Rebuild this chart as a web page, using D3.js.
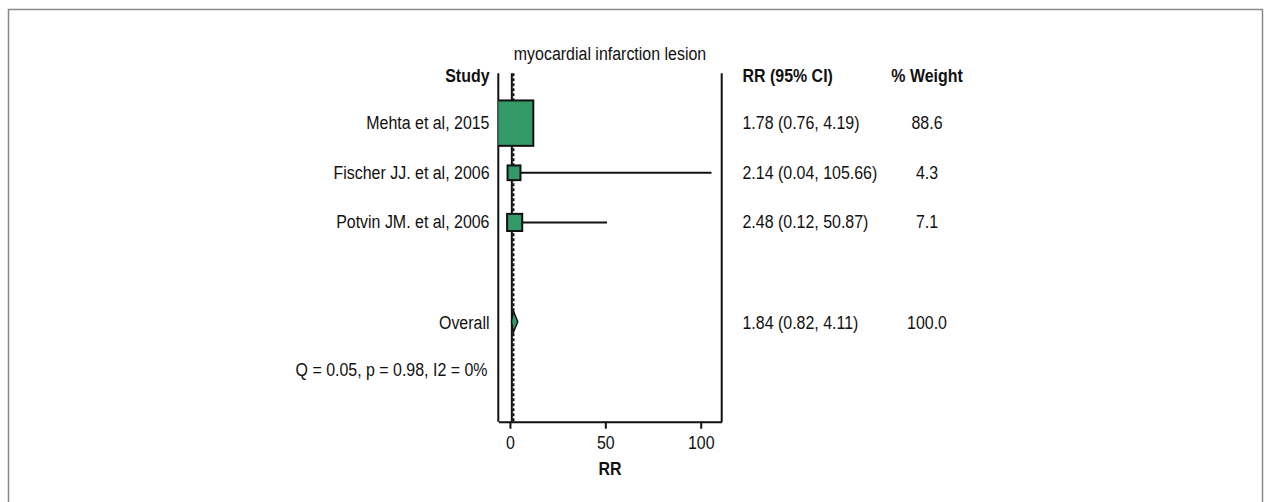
<!DOCTYPE html>
<html><head><meta charset="utf-8">
<script src="https://cdn.jsdelivr.net/npm/d3@7"></script>
<style>
body{margin:0;background:#fff}
text{font-family:"Liberation Sans",Arial,Helvetica,sans-serif;fill:#111}
</style>
</head><body>
<svg id="c" width="1266" height="502"></svg>
<script>
// ---------- data ----------
const title = "myocardial infarction lesion";
const headers = ["Study", "RR (95% CI)", "% Weight"];
const studies = ["Mehta et al, 2015", "Fischer JJ. et al, 2006", "Potvin JM. et al, 2006"];
const rr = [1.78, 2.14, 2.48];
const lower = [0.76, 0.04, 0.12];
const upper = [4.19, 105.66, 50.87];
const weights = [88.6, 4.3, 7.1];
const overallLabel = "Overall";
const overallValues = [1.84, 0.82, 4.11];   // RR, lower, upper
const overallWeight = 100.0;
const heterogeneity = "Q = 0.05, p = 0.98, I2 = 0%";
const nullValue = 1;
const xTicks = [0, 50, 100];
const xLabel = "RR";

// ---------- layout ----------
const FS = 19, SX = 0.84;
const svg = d3.select("#c");
const plotL = 498.3, plotR = 721.7, plotT = 73.3, plotB = 421.7;
const x = d3.scaleLinear().domain([-6.1, 111]).range([plotL, plotR]);
const y = d3.scaleLinear().domain([0, 7]).range([73.5, 421]);
const size = d3.scalePow().exponent(0.5).domain([d3.min(weights), d3.max(weights)]).range([14.7, 45.4]);
const labelX = 489.5, ciX = 742.5, wX = 927;
const green = "#339966";

// outer frame
svg.append("rect").attr("x", 8.5).attr("y", 9.5).attr("width", 1254).attr("height", 520)
  .attr("fill", "none").attr("stroke", "#8a8a8a").attr("stroke-width", 1.5);

function txt(xp, yp, s, anchor, bold) {
  return svg.append("text")
    .attr("transform", `translate(${xp},${yp}) scale(${SX},1)`)
    .attr("text-anchor", anchor)
    .attr("font-size", FS)
    .attr("font-weight", bold ? "bold" : null)
    .text(s);
}
const fmt2 = d3.format(".2f"), fmt1 = d3.format(".1f");
const ciText = (a, b, c) => `${fmt2(a)} (${fmt2(b)}, ${fmt2(c)})`;

// title & headers
txt((plotL + plotR) / 2, 59.5, title, "middle", false);
txt(labelX, 81.5, headers[0], "end", true);
txt(ciX, 81.5, headers[1], "start", true);
txt(wX, 81.5, headers[2], "middle", true);

// plot frame: left, right
svg.append("line").attr("x1", plotL).attr("x2", plotL).attr("y1", plotT).attr("y2", plotB)
  .attr("stroke", "#111").attr("stroke-width", 2);
svg.append("line").attr("x1", plotR).attr("x2", plotR).attr("y1", plotT).attr("y2", plotB)
  .attr("stroke", "#111").attr("stroke-width", 2);

// reference lines
svg.append("line").attr("x1", x(nullValue)).attr("x2", x(nullValue)).attr("y1", plotT).attr("y2", plotB)
  .attr("stroke", "#111").attr("stroke-width", 2);
svg.append("line").attr("x1", x(overallValues[0])).attr("x2", x(overallValues[0])).attr("y1", plotT).attr("y2", plotB)
  .attr("stroke", "#111").attr("stroke-width", 2).attr("stroke-dasharray", "3,2");

// clip
svg.append("clipPath").attr("id", "pc").append("rect")
  .attr("x", plotL).attr("y", 0).attr("width", plotR - plotL).attr("height", 502);
const pg = svg.append("g").attr("clip-path", "url(#pc)");

const rows = studies.map((s, i) => ({ s, rr: rr[i], lo: lower[i], hi: upper[i], w: weights[i], r: i + 1 }));

// CI lines
pg.selectAll("line.ci").data(rows).enter().append("line")
  .attr("x1", d => x(d.lo)).attr("x2", d => x(d.hi))
  .attr("y1", d => y(d.r)).attr("y2", d => y(d.r))
  .attr("stroke", "#111").attr("stroke-width", 2);

// boxes
pg.selectAll("rect.box").data(rows).enter().append("rect")
  .attr("x", d => x(d.rr) - size(d.w) * 0.88 / 2)
  .attr("y", d => y(d.r) - size(d.w) / 2)
  .attr("width", d => size(d.w) * 0.88)
  .attr("height", d => size(d.w))
  .attr("fill", green).attr("stroke", "#111").attr("stroke-width", 2);

// overall diamond
const oy = y(5), dh = 10.5;
pg.append("path")
  .attr("d", `M${x(overallValues[1])},${oy} L${x(overallValues[0])},${oy - dh} L${x(overallValues[2])},${oy} L${x(overallValues[0])},${oy + dh} Z`)
  .attr("fill", green).attr("stroke", "#111").attr("stroke-width", 1.5);

// row texts
rows.forEach(d => {
  txt(labelX, y(d.r) + 6, d.s, "end", false);
  txt(ciX, y(d.r) + 6, ciText(d.rr, d.lo, d.hi), "start", false);
  txt(wX, y(d.r) + 6, fmt1(d.w), "middle", false);
});
txt(labelX, y(5) + 7, overallLabel, "end", false);
txt(ciX, y(5) + 7, ciText(overallValues[0], overallValues[1], overallValues[2]), "start", false);
txt(wX, y(5) + 7, fmt1(overallWeight), "middle", false);
txt(labelX - 2, y(6) + 5, heterogeneity, "end", false);

// axis
const ax = svg.append("g").attr("transform", `translate(0,${plotB})`)
  .call(d3.axisBottom(x).tickValues(xTicks).tickSize(7).tickSizeOuter(0).tickPadding(7));
ax.select(".domain").attr("stroke", "#111").attr("stroke-width", 2);
ax.selectAll(".tick line").attr("stroke", "#111").attr("stroke-width", 2);
ax.selectAll(".tick text")
  .attr("font-family", "Liberation Sans, Arial, sans-serif")
  .attr("font-size", FS).attr("fill", "#111")
  .attr("transform", `scale(${SX},1)`);
txt((plotL + plotR) / 2, 474.5, xLabel, "middle", true);
</script>
</body></html>
